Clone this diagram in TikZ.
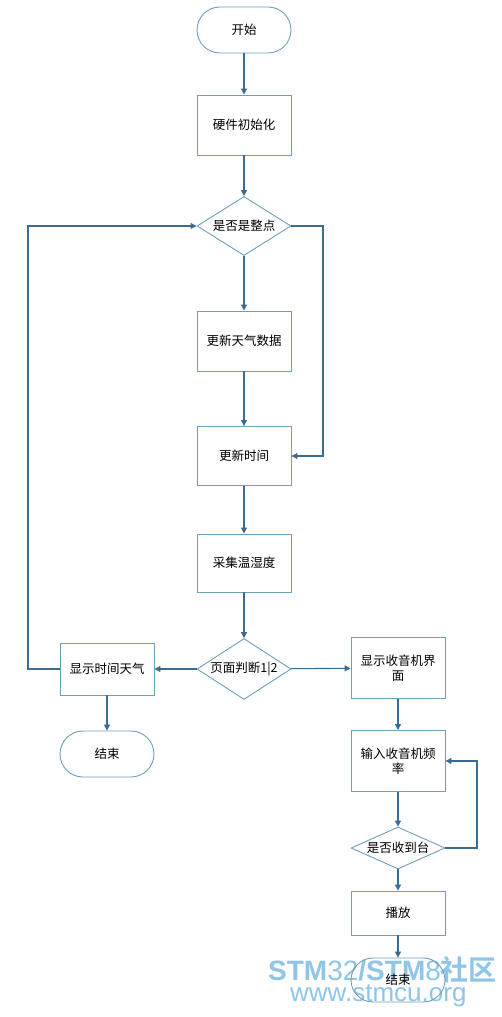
\documentclass[tikz,border=0pt]{standalone}
\usepackage{fontspec}
\setmainfont{Liberation Sans}
\newfontfamily\cjk{Noto Sans CJK SC}
\newfontfamily\cjkb{Noto Sans CJK SC Bold}
\usetikzlibrary{shapes.geometric,arrows.meta}
\definecolor{bordc}{RGB}{110,160,185}
\definecolor{linec}{RGB}{58,108,145}
\definecolor{wmc}{RGB}{105,178,226}
\begin{document}
\begin{tikzpicture}[x=1pt,y=-1pt,
  base/.style={draw=bordc,line width=0.9pt,font=\cjk\fontsize{12.5}{15}\selectfont,inner sep=0pt,align=center},
  procbox/.style={base,rectangle,minimum width=94pt,minimum height=60pt},
  termbox/.style={base,rectangle,rounded corners=23pt,minimum width=94pt,minimum height=46pt},
  decbox/.style={base,diamond,minimum width=94pt,inner sep=-1pt},
  conn/.style={draw=linec,line width=1.1pt,-{Triangle[width=6pt,length=6pt]}},
  wm/.style={text=wmc,opacity=0.75,inner sep=0pt,anchor=base west}]
\fill[white] (0,0) rectangle (501,1017);
\useasboundingbox (0,0) rectangle (501,1017);
% watermark
\node[wm] (wm1) at (268,980) {\fontsize{28}{30}\selectfont\textbf{STM}32\textbf{/STM}8{\cjkb 社区}};
\node[wm] (wm2) at (290,1001) {\fontsize{26}{28}\selectfont www.stmcu.org};
% nodes
\node[termbox] (start) at (244,30) {开始};
\node[procbox] (init) at (244,125) {硬件初始化};
\node[decbox,aspect=1.6,minimum height=59pt] (q1) at (244,226) {是否是整点};
\node[procbox] (weather) at (244,341) {更新天气数据};
\node[procbox,minimum height=59pt] (time) at (244,456) {更新时间};
\node[procbox,minimum height=58pt] (collect) at (244,563) {采集温湿度};
\node[decbox,aspect=1.54,minimum height=61pt] (q2) at (244,669) {页面判断1|2};
\node[procbox,minimum height=52pt] (show) at (107,669) {显示时间天气};
\node[termbox] (end1) at (107,754) {结束};
\node[procbox,minimum height=61pt] (radio) at (398,668) {显示收音机界\\面};
\node[procbox,minimum height=61pt] (freq) at (398,761) {输入收音机频\\率};
\node[decbox,aspect=2.24,minimum height=42pt] (q3) at (398,848) {是否收到台};
\node[procbox,minimum height=44pt] (play) at (398,913) {播放};
\node[termbox,minimum height=44pt,rounded corners=22pt] (end2) at (398,980) {结束};
% helper coordinates
\coordinate (r1) at (323,226);
\coordinate (l1) at (28,226);
\coordinate (r3) at (477,848);
% connectors
\draw[conn] (start) -- (init);
\draw[conn] (init) -- (q1);
\draw[conn] (q1) -- (weather);
\draw[conn] (q1.east) -- (r1) |- (time.east);
\draw[conn] (weather) -- (time);
\draw[conn] (time) -- (collect);
\draw[conn] (collect) -- (q2);
\draw[conn] (q2) -- (show);
\draw[conn] (show.west) -| (l1) -- (q1.west);
\draw[conn] (show) -- (end1);
\draw[conn] (q2) -- (radio);
\draw[conn] (radio) -- (freq);
\draw[conn] (freq) -- (q3);
\draw[conn] (q3.east) -- (r3) |- (freq.east);
\draw[conn] (q3) -- (play);
\draw[conn] (play) -- (end2);
\end{tikzpicture}
\end{document}
